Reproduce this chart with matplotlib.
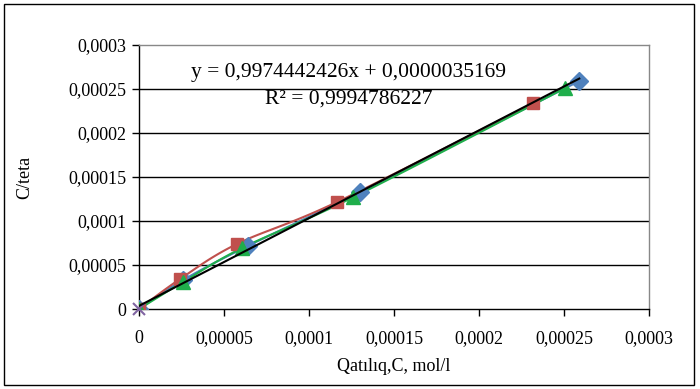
import numpy as np
import matplotlib
matplotlib.use("Agg")
import matplotlib.pyplot as plt
from matplotlib.patches import Rectangle
from matplotlib.ticker import FuncFormatter

plt.rcParams['font.family'] = ['Liberation Serif', 'DejaVu Serif']

# Data
blue_x = [0, 0.000026, 0.000064, 0.000130, 0.000259]
blue_y = [0, 0.000033, 0.0000716, 0.000133, 0.000259]
red_x = [0, 0.0000241, 0.0000576, 0.0001165, 0.000232]
red_y = [0, 0.000034, 0.0000739, 0.0001216, 0.000234]
green_x = [0, 0.0000259, 0.0000606, 0.000126, 0.0002506]
green_y = [0, 0.0000307, 0.0000693, 0.000127, 0.000251]
purple_x = [0]
purple_y = [0]
slope = 0.9974442426
intercept = 0.0000035169
r2 = 0.9994786227
xticks = [0, 0.00005, 0.0001, 0.00015, 0.0002, 0.00025, 0.0003]
yticks = [0, 0.00005, 0.0001, 0.00015, 0.0002, 0.00025, 0.0003]


def smooth(x, y, n=20):
    x = np.asarray(x, float); y = np.asarray(y, float)
    P = np.column_stack([x, y])
    P = np.vstack([P[0], P, P[-1]])
    out = []
    for i in range(1, len(P) - 2):
        p0, p1, p2, p3 = P[i - 1], P[i], P[i + 1], P[i + 2]
        t = np.linspace(0, 1, n)[:, None]
        seg = 0.5 * ((2 * p1) + (-p0 + p2) * t + (2 * p0 - 5 * p1 + 4 * p2 - p3) * t**2
                     + (-p0 + 3 * p1 - 3 * p2 + p3) * t**3)
        out.append(seg)
    out = np.vstack(out)
    return out[:, 0], out[:, 1]


def fmt(v, pos):
    if v == 0:
        return "0"
    s = ("%.5f" % v).rstrip("0")
    return s.replace(".", ",")


fig = plt.figure(figsize=(7, 3.89), dpi=100)
fig.patch.set_facecolor("white")
fig.add_artist(Rectangle((4 / 700, 4 / 389), 690 / 700, 381 / 389, transform=fig.transFigure,
                         fill=False, edgecolor="black", linewidth=1.0))

ax = fig.add_axes([139 / 700, 1 - 309 / 389, (649 - 139) / 700, (309 - 45) / 389])
ax.set_xlim(0, 0.0003)
ax.set_ylim(0, 0.0003)
for v in yticks[1:-1]:
    ax.axhline(v, color="black", linewidth=1.0, zorder=1)

ax.spines["top"].set_color("#888888")
ax.spines["right"].set_color("#888888")
ax.spines["left"].set_color("black")
ax.spines["bottom"].set_color("black")
for s in ax.spines.values():
    s.set_linewidth(1.0)

bx, by = smooth(blue_x, blue_y)
ax.plot(bx, by, color="#4F81BD", linewidth=1.5, zorder=3)
ax.plot(blue_x, blue_y, linestyle="none", marker="D", markersize=9, color="#4F81BD", zorder=4)
rx, ry = smooth(red_x, red_y)
ax.plot(rx, ry, color="#C0504D", linewidth=1.5, zorder=3)
ax.plot(red_x, red_y, linestyle="none", marker="s", markersize=9, color="#C0504D", zorder=4)
gx, gy = smooth(green_x, green_y)
ax.plot(gx, gy, color="#1FAE4B", linewidth=1.5, zorder=3)
ax.plot(green_x, green_y, linestyle="none", marker="^", markersize=10, color="#1FAE4B", zorder=5)
ax.plot(purple_x, purple_y, linestyle="none", marker="x", markersize=9, mew=1.5,
        color="#8064A2", zorder=6, clip_on=False)

tx = np.array([0, max(blue_x)])
ax.plot(tx, slope * tx + intercept, color="black", linewidth=1.5, zorder=6)

ax.set_xticks(xticks)
ax.set_yticks(yticks)
ax.xaxis.set_major_formatter(FuncFormatter(fmt))
ax.yaxis.set_major_formatter(FuncFormatter(fmt))
ax.tick_params(axis="both", direction="out", length=5, width=1, labelsize=13, colors="black")
ax.tick_params(axis="x", pad=10)
ax.tick_params(axis="y", pad=4)

ax.set_xlabel("Qatılıq,C, mol/l", fontsize=13, labelpad=8)
ax.set_ylabel("C/teta", fontsize=13, labelpad=25)

ax.text(0.0001235, 0.000269, "y = 0,9974442426x + 0,0000035169", fontsize=15.5, ha="center", va="center")
ax.text(0.0001235, 0.000239, "R² = %s" % ("%.10f" % r2).replace(".", ","), fontsize=15.5,
        ha="center", va="center")

fig.savefig("out.png", dpi=100)
